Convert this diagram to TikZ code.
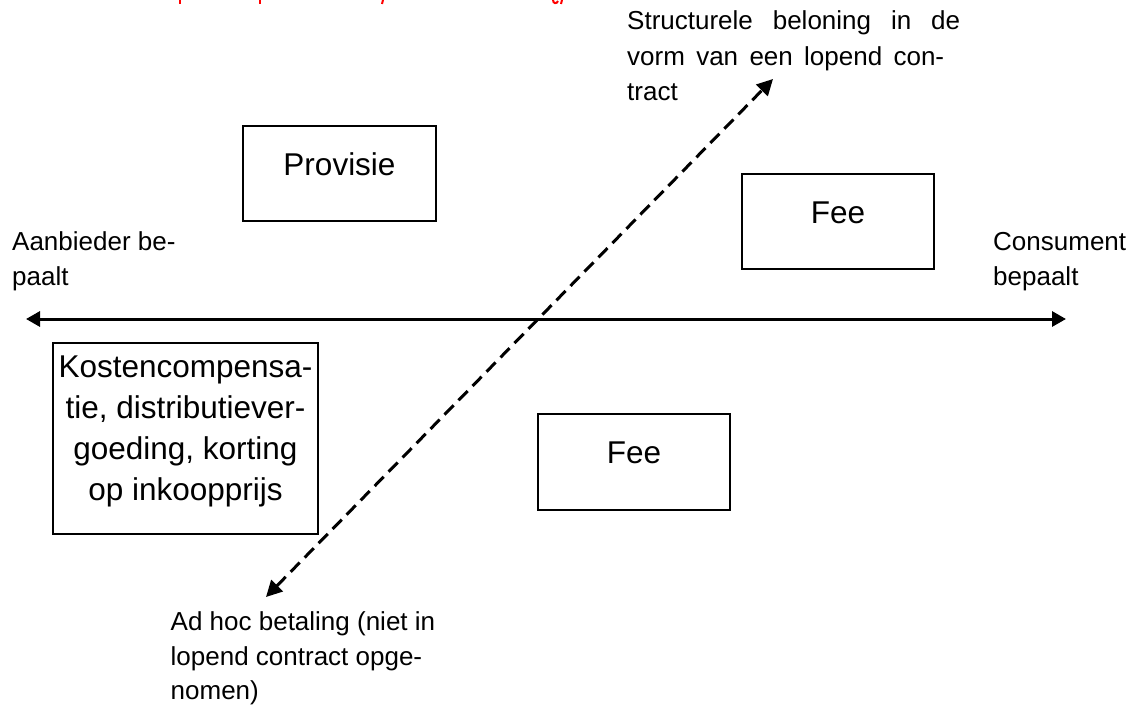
\documentclass[tikz,border=0pt]{standalone}
\usepackage{fontspec}
\setmainfont{Liberation Sans}
\usetikzlibrary{arrows.meta}
\begin{document}
\begin{tikzpicture}[x=1pt,y=-1pt,
  box/.style={draw, line width=1.3pt, inner xsep=0pt, inner ysep=0pt,
    align=center, font=\fontsize{31.5}{41}\selectfont},
  lbl/.style={anchor=base west, inner sep=0pt, align=left,
    font=\fontsize{26}{35.5}\selectfont},
  axis/.style={line width=3pt,
    {Triangle[length=14pt,width=15pt]}-{Triangle[length=14pt,width=15pt]}},
  diag/.style={line width=3pt, dash pattern=on 13pt off 7pt,
    {Triangle[length=16pt,width=16pt]}-{Triangle[length=16pt,width=16pt]}},
  redmark/.style={draw=red, line width=2pt},
]
\useasboundingbox (0,0) rectangle (1132,709);

% descenders of the red heading running off the top edge
\draw[redmark] (180,0) -- (180,4);
\draw[redmark] (260,0) -- (260,4);
\draw[redmark] (383,0) -- (382,4);
\draw[redmark] (553,0) .. controls (553,4) and (557,4) .. (558,1);
\draw[redmark] (562,0) -- (561,4);

% boxes (anchored on the last baseline, text height/depth give the frame)
\node[box, anchor=base, minimum width=193pt, text height=49pt, text depth=46pt]
  (prov) at (339.5,175) {Provisie};
\node[box, anchor=base, minimum width=192pt, text height=49pt, text depth=46pt]
  (feeup) at (838,223) {Fee};
\node[box, anchor=base, minimum width=192pt, text height=49pt, text depth=47pt]
  (feelow) at (634,463) {Fee};
\node[box, anchor=base, minimum width=265pt, text height=157pt, text depth=34pt]
  (kost) at (185.5,500) {Kostencompensa-\\tie, distributiever-\\goeding, korting\\op inkoopprijs};

% side and end labels (anchored on their last line)
\node[lbl] (aanb) at (12,285.5) {Aanbieder be-\\paalt};
\node[lbl] (cons) at (993,285.5) {Consument\\bepaalt};
\node[lbl] (struct) at (627,100.7)
  {\makebox[333pt][s]{Structurele beloning in de}\\
   \makebox[317pt][s]{vorm van een lopend con-}\\tract};
\node[lbl, font=\fontsize{26}{34.5}\selectfont] (adhoc) at (170.5,699.5)
  {Ad hoc betaling (niet in\\lopend contract opge-\\nomen)};

% axes
\coordinate (axL) at (26,319);
\coordinate (axR) at (1066,319);
\draw[axis] (axL) -- (axR);

\coordinate (dgLow) at (266,597);
\coordinate (dgUp) at (773,79);
\draw[diag] (dgLow) -- (dgUp);
\end{tikzpicture}
\end{document}
